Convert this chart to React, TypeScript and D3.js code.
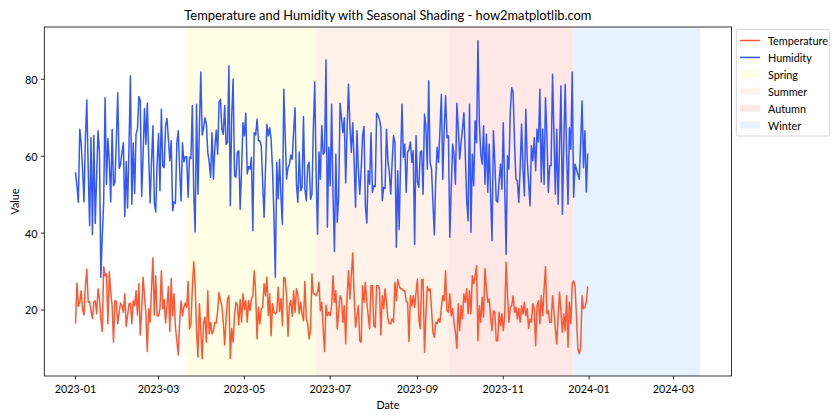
import React from "react";
import * as d3 from "d3";

// Daily values for 2023-01-01 .. 2023-12-31
const humidity: number[] = [
  55.6, 52.3, 48, 67, 63.5, 56.6, 48.1, 64.4, 74.6, 56.6,
  41.9, 64.8, 39.6, 65.4, 42.5, 54.9, 66.6, 61, 28.5, 39.3,
  48, 75.2, 52.7, 64.6, 58.4, 48.1, 67, 52.3, 53.2, 64.4,
  76.5, 56.8, 57.9, 61, 63.5, 44.3, 58.6, 46.5, 62.7, 80.9,
  47.5, 63.4, 50.3, 65.7, 67, 75.5, 74.4, 49.5, 60.1, 72.4,
  63.1, 73.8, 60.1, 47.8, 58.4, 67.9, 48, 45.5, 58.4, 65.9,
  51, 72.2, 57.5, 57, 67.9, 69.8, 64.4, 58.8, 64, 45.8,
  48.1, 47.8, 63.5, 66.6, 56.6, 48.4, 63.5, 58.5, 59.9, 59.8,
  49.3, 59.7, 59.4, 73.2, 50.6, 40.3, 73.5, 50.1, 67, 81.9,
  65.5, 67.4, 70, 68.3, 61, 58.4, 54.5, 66.1, 54, 62.3,
  66.8, 60.5, 74.1, 74.8, 67, 65.7, 73.2, 63.1, 63.5, 83.5,
  47.1, 70.5, 80, 54.9, 54.5, 61, 61.4, 46.2, 56.6, 68.7,
  65.3, 71.2, 55.4, 57.3, 56.6, 59.7, 40.6, 66.1, 65.5, 69.6,
  64, 64, 62.7, 53.2, 44.1, 56.6, 68.3, 65.3, 67.4, 64.4,
  56.6, 44.5, 28.5, 58.4, 48.9, 59.2, 49.3, 42.3, 77.4, 65.3,
  54, 57, 57.9, 60.3, 59.2, 66.6, 72.6, 52.7, 48, 61.1,
  51, 51.9, 70.3, 51.4, 48.4, 57.5, 58.4, 48.8, 50.1, 67,
  79.3, 54.9, 39.7, 61.1, 54, 68, 60.5, 61, 85, 41.5,
  62.3, 52.3, 73.5, 49.7, 35.2, 60.5, 42.8, 49.7, 73.8, 70,
  66.1, 70, 53, 67, 78.7, 67.9, 61, 68.7, 58.4, 46.7,
  66.6, 56.6, 50.1, 56.6, 65.3, 67.7, 47.1, 42.6, 56.2, 52.7,
  66.1, 50.6, 52.3, 52.1, 71.2, 70.6, 69.6, 67.4, 48.4, 51.9,
  51.6, 67, 58.8, 55.8, 50.1, 58.4, 65.3, 63.5, 36.3, 56.2,
  40.9, 58.4, 73.5, 59.7, 63.1, 50.6, 61, 61.8, 63.7, 58.4,
  61.4, 37.1, 65.3, 53.2, 51.9, 61, 61.4, 50.1, 70.9, 67.9,
  56.6, 79.6, 58.4, 56.6, 48, 39.5, 54, 62.3, 58.4, 67,
  76.1, 54, 67, 75.7, 64.8, 65.3, 38.9, 51.4, 63.1, 60.5,
  52.7, 73.8, 67.4, 59.2, 63.5, 67, 71.3, 60.5, 48.4, 43.2,
  73.5, 40.2, 60.5, 52.3, 69.2, 63.5, 90, 68.7, 60.5, 57.9,
  67.9, 52.7, 65.7, 50.6, 63.1, 49.7, 38, 66.6, 58.4, 48.4,
  48, 53.2, 57.9, 51.4, 68.7, 52.3, 34.5, 60.1, 56.6, 71.8,
  77.8, 76.5, 63.5, 54, 53.6, 48, 57, 68.3, 56.6, 49.7,
  72.2, 59.2, 53.2, 47.1, 62.7, 58.8, 64.8, 56.2, 67, 63.7,
  77.4, 53.3, 67, 52.7, 75.2, 65.3, 50.6, 57.5, 57.5, 81.3,
  66.1, 50.1, 67, 47.5, 62.7, 78.3, 44.9, 62.7, 78.7, 61,
  47.5, 67.4, 61.8, 81.9, 49.3, 57.9, 56.6, 55.3, 54, 63.5,
  74.4, 57, 66.6, 50.7, 60.5,
];

const temperature: number[] = [
  16.6, 27, 21, 22, 25, 20, 18.7, 26.3, 30.6, 22,
  22.2, 19.8, 17.8, 22, 22.4, 19, 25.5, 23, 17.7, 14.4,
  31.3, 28.9, 29.4, 16.4, 30, 24.6, 21.1, 11.6, 22.4, 22.2,
  16.4, 19.4, 21.8, 21.1, 19.4, 24.2, 15.7, 18.5, 21.6, 21.8,
  16.4, 22.4, 21.1, 25, 18.7, 26.8, 13.5, 19.8, 28.5, 23.7,
  19, 9.2, 20.3, 16.8, 25.5, 33.6, 18.7, 28.9, 18.5, 18.4,
  20.3, 30.2, 20.3, 22.7, 16.6, 21.1, 26.1, 14.4, 28.2, 18.5,
  24.2, 15.5, 12, 8.3, 16.8, 22.4, 18.5, 20.7, 21.8, 20.7,
  27.4, 15.1, 16.4, 25.5, 32.6, 26.8, 14.6, 7.7, 21.6, 15.1,
  7.3, 16.8, 18.1, 11.6, 25, 13.8, 16.8, 13.8, 14.6, 16.8,
  16.6, 19.8, 24.6, 22.4, 21.1, 16.8, 10.9, 17.7, 22.9, 23.7,
  7.4, 15.2, 11.6, 18.5, 22, 21.3, 16.1, 22.7, 16.8, 24.2,
  20.1, 22.4, 16.8, 22.4, 19.8, 22.9, 23.7, 30.2, 24.6, 12.5,
  20.7, 16.4, 20.3, 20.7, 26.8, 23.7, 28.5, 18.5, 24.2, 13.3,
  21.6, 19.4, 19, 19.4, 25.9, 19.6, 22.9, 15.9, 28.5, 28.1,
  23.7, 13.2, 21.1, 22.4, 18.4, 25, 19.4, 25.5, 23.9, 19,
  22, 19, 17.2, 27.4, 17.7, 16.4, 12.5, 14.6, 29.4, 24.2,
  24.2, 23.7, 24.6, 27.2, 19.8, 22, 15.1, 9.2, 21.3, 18.5,
  19.4, 18.5, 21.1, 28.9, 22, 25, 15.1, 19.4, 23.7, 22.9,
  16.8, 21.1, 11.2, 23.7, 30.2, 22.9, 28.9, 34.8, 23.7, 15.5,
  18.5, 21.1, 12, 11.6, 26.3, 22, 27.2, 22, 18.5, 15.1,
  26.3, 26.3, 15.9, 15.5, 26.3, 26.3, 25.5, 13.5, 23.7, 20.3,
  25.5, 22, 17.7, 16.4, 16.4, 17.7, 16.8, 27.2, 22.4, 27.9,
  26.3, 25.5, 25.5, 25, 25, 22.2, 22, 11.8, 23.7, 21.1,
  23.7, 20.7, 24.6, 28, 17.7, 15.1, 27.9, 27.9, 9, 18.5,
  26.1, 25, 25.5, 20.3, 14.2, 12.9, 16.8, 16.4, 17.7, 16.8,
  20.7, 23.7, 22.4, 30.2, 19.8, 19.4, 24.2, 18.5, 20.3, 16.8,
  14.2, 10, 21.6, 14.6, 21.1, 17.7, 24.2, 22, 25.5, 19,
  25, 19, 28.9, 26.8, 28.9, 31.5, 12, 21.1, 16.8, 23.3,
  18.1, 30.8, 25.5, 22, 22.9, 18.1, 14.6, 19.8, 19.4, 12,
  12, 19.4, 15.9, 19, 14.6, 18.5, 32.4, 23.7, 16.8, 20.7,
  21.1, 23.7, 19.4, 20.7, 17.7, 20.4, 16.8, 21.1, 19, 22,
  18.5, 20.3, 15.2, 17.7, 16.8, 21.6, 20.3, 10.7, 21.1, 22.4,
  16.4, 23.7, 18.5, 25.5, 31.3, 19, 19.8, 16.8, 16.8, 23.7,
  19.4, 15.1, 11.2, 18.5, 24.6, 19.4, 14.2, 19, 14.6, 23.7,
  10.3, 22, 16.4, 26.8, 27.6, 26.3, 18.5, 9.9, 8.6, 10.3,
  23.7, 20.3, 20.7, 22, 25.9,
];

const seasonNames = ["Spring", "Summer", "Autumn", "Winter"];
const seasonStarts = ["2023-03-20", "2023-06-21", "2023-09-23", "2023-12-21"];
const seasonEnds = ["2023-06-21", "2023-09-23", "2023-12-21", "2024-03-20"];
const seasonColors = ["#FFFFE6", "#FFF2E8", "#FFE8E6", "#E8F2FE"];

const seriesNames = ["Temperature", "Humidity"];
const seriesColors = ["#FF5733", "#3357FF"];
const yTicks = [20, 40, 60, 80];
const yLimits = [2.83, 93.6];

const FONT = "Lato, 'Noto Sans', sans-serif";
const FS = 10.8;
const W = 840;
const H = 420;
const left = 44.3, right = 731.5, top = 27, bottom = 376;

const parse = d3.utcParse("%Y-%m-%d");
const DAY = 86400000;

export default function App() {
  const start = parse("2023-01-01")!;
  const dates = humidity.map((_, i) => new Date(start.getTime() + i * DAY));
  const x0 = new Date(start.getTime() - 22.2 * DAY);
  const x1 = new Date(start.getTime() + 466.2 * DAY);
  const x = d3.scaleUtc().domain([x0, x1]).range([left, right]);
  const y = d3.scaleLinear().domain(yLimits).range([bottom, top]);
  const xTicks = d3.utcMonth.every(2)!.range(start, new Date(Date.UTC(2024, 3, 2)));
  const fmt = d3.utcFormat("%Y-%m");

  const line = d3.line<number>().x((_, i) => x(dates[i])).y((v) => y(v));
  const series = [temperature, humidity];

  const legendRowY = (i: number) => 40.5 + i * 16.9;

  return (
    <svg width={W} height={H} style={{ position: "absolute", left: 0, top: 0, background: "#fff" }} fontFamily={FONT}>
      <rect x={0} y={0} width={W} height={H} fill="#fff" />
      {seasonNames.map((n, i) => (
        <rect key={n} x={x(parse(seasonStarts[i])!)} y={top}
          width={x(parse(seasonEnds[i])!) - x(parse(seasonStarts[i])!)} height={bottom - top}
          fill={seasonColors[i]} />
      ))}
      {series.map((s, i) => (
        <path key={seriesNames[i]} d={line(s) || ""} fill="none" stroke={seriesColors[i]}
          strokeWidth={1.5} strokeLinejoin="round" strokeLinecap="square" />
      ))}
      <rect x={left} y={top} width={right - left} height={bottom - top} fill="none" stroke="#000" strokeWidth={0.8} />
      {xTicks.map((t) => (
        <g key={t.getTime()}>
          <line x1={x(t)} x2={x(t)} y1={bottom} y2={bottom + 3.5} stroke="#000" strokeWidth={0.8} />
          <text x={x(t)} y={392.8} textAnchor="middle" fontSize={FS} fill="#000">{fmt(t)}</text>
        </g>
      ))}
      {yTicks.map((t) => (
        <g key={t}>
          <line x1={left - 3.5} x2={left} y1={y(t)} y2={y(t)} stroke="#000" strokeWidth={0.8} />
          <text x={left - 6.8} y={y(t)} textAnchor="end" dominantBaseline="central" fontSize={FS} fill="#000">{t}</text>
        </g>
      ))}
      <text x={(left + right) / 2} y={408.5} textAnchor="middle" fontSize={FS} fill="#000">Date</text>
      <text transform={`translate(14,${(top + bottom) / 2}) rotate(-90)`} textAnchor="middle" dominantBaseline="central" fontSize={FS} fill="#000">Value</text>
      <text x={(left + right) / 2} y={19.5} textAnchor="middle" fontSize={12.9} fill="#000">
        Temperature and Humidity with Seasonal Shading - how2matplotlib.com
      </text>
      <g>
        <rect x={736.3} y={29.3} width={93.4} height={106.7} rx={2} fill="#fff" fillOpacity={0.8} stroke="#cccccc" strokeWidth={0.8} />
        {seriesNames.map((n, i) => (
          <g key={n}>
            <line x1={740} x2={760} y1={legendRowY(i)} y2={legendRowY(i)} stroke={seriesColors[i]} strokeWidth={1.5} />
            <text x={768} y={legendRowY(i)} dominantBaseline="central" fontSize={FS} fill="#000">{n}</text>
          </g>
        ))}
        {seasonNames.map((n, i) => (
          <g key={n}>
            <rect x={740} y={legendRowY(i + 2) - 3.4} width={20} height={6.8} fill={seasonColors[i]} />
            <text x={768} y={legendRowY(i + 2)} dominantBaseline="central" fontSize={FS} fill="#000">{n}</text>
          </g>
        ))}
      </g>
    </svg>
  );
}
